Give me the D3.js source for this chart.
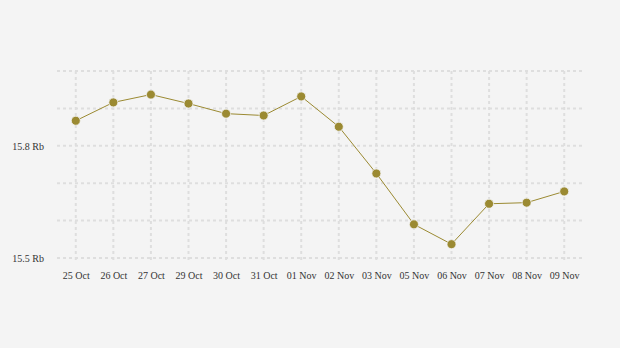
<!DOCTYPE html>
<html>
<head>
<meta charset="utf-8">
<script src="https://cdn.jsdelivr.net/npm/d3@7"></script>
<style>
  body { margin: 0; background: #f4f4f4; }
  svg { display: block; }
</style>
</head>
<body>
<div id="container"></div>
<script>
/* CONSTANTS AND GLOBALS */
const width = 620,
  height = 348,
  margin = {top: 71, bottom: 90, left: 57, right: 37};
const serif = "'Liberation Serif', 'Times New Roman', 'DejaVu Serif', serif";

/* DATA */
const dates = ["25 Oct", "26 Oct", "27 Oct", "29 Oct", "30 Oct", "31 Oct", "01 Nov",
  "02 Nov", "03 Nov", "05 Nov", "06 Nov", "07 Nov", "08 Nov", "09 Nov"];
const prices = [15.867, 15.916, 15.937, 15.913, 15.886, 15.881, 15.932,
  15.851, 15.726, 15.590, 15.537, 15.645, 15.648, 15.678];
const gridValues = [15.5, 15.6, 15.7, 15.8, 15.9, 16.0];
const labelValues = [15.5, 15.8];

const data = dates.map((d, i) => ({date: d, price: prices[i]}));

const svg = d3.select("#container")
  .append("svg")
  .attr("width", width)
  .attr("height", height);

// SCALES
const xScale = d3.scalePoint()
  .domain(dates)
  .range([margin.left, width - margin.right])
  .padding(0.5);

const yScale = d3.scaleLinear()
  .domain([15.5, 16.0])
  .range([height - margin.bottom, margin.top]);

// GRID
svg.append("g")
  .selectAll("line.h")
  .data(gridValues)
  .join("line")
  .attr("class", "h")
  .attr("x1", margin.left)
  .attr("x2", width - margin.right)
  .attr("y1", d => yScale(d))
  .attr("y2", d => yScale(d))
  .attr("stroke", "#dedede")
  .attr("stroke-width", 2)
  .attr("stroke-dasharray", "3,3");

svg.append("g")
  .selectAll("line.v")
  .data(dates)
  .join("line")
  .attr("class", "v")
  .attr("x1", d => xScale(d))
  .attr("x2", d => xScale(d))
  .attr("y1", margin.top)
  .attr("y2", height - margin.bottom + 5)
  .attr("stroke", "#dedede")
  .attr("stroke-width", 2)
  .attr("stroke-dasharray", "3,3");

// AXES
const yAxis = d3.axisLeft(yScale)
  .tickValues(labelValues)
  .tickFormat(d => d3.format(".1f")(d) + " Rb")
  .tickSize(0)
  .tickPadding(13);

svg.append("g")
  .attr("transform", `translate(${margin.left},0)`)
  .call(yAxis)
  .call(g => g.select(".domain").remove())
  .selectAll("text")
  .style("font-size", "10px")
  .style("font-family", serif)
  .style("fill", "#333");

const xAxis = d3.axisBottom(xScale)
  .tickSize(0)
  .tickPadding(14);

svg.append("g")
  .attr("transform", `translate(0,${height - margin.bottom})`)
  .call(xAxis)
  .call(g => g.select(".domain").remove())
  .selectAll("text")
  .style("font-size", "10px")
  .style("font-family", serif)
  .style("fill", "#333");

// LINE
const lineGen = d3.line()
  .x(d => xScale(d.date))
  .y(d => yScale(d.price));

svg.append("path")
  .datum(data)
  .attr("fill", "none")
  .attr("stroke", "#9b8a32")
  .attr("stroke-width", 1)
  .attr("d", lineGen);

// DOTS
svg.selectAll(".dot")
  .data(data)
  .join("circle")
  .attr("class", "dot")
  .attr("cx", d => xScale(d.date))
  .attr("cy", d => yScale(d.price))
  .attr("r", 4.5)
  .attr("fill", "#9b8a32")
  .attr("stroke", "#f4f4f4")
  .attr("stroke-width", 0.8);
</script>
</body>
</html>
